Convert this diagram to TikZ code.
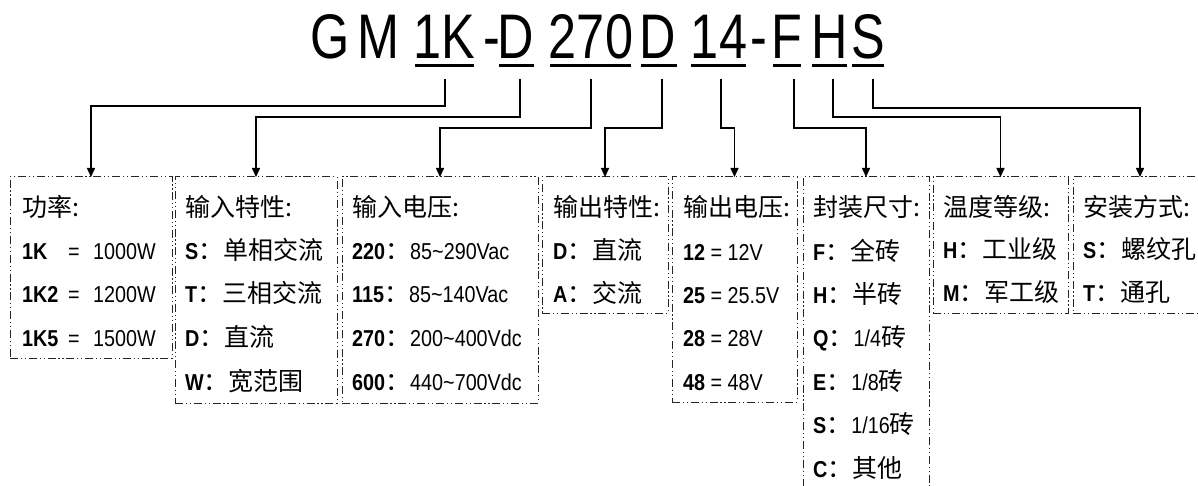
\documentclass[tikz,border=0pt]{standalone}
\usepackage{fontspec}
\setmainfont{Liberation Sans}[FakeStretch=0.86]
\newfontfamily\cjk{Noto Sans CJK SC}
\newfontfamily\titlefont{Liberation Sans}[FakeStretch=0.8]
\usetikzlibrary{arrows.meta}
\newcommand\zh[1]{{\cjk\fontsize{25}{25}\selectfont #1}}
\newcommand\bl[1]{{\bfseries #1}}
\begin{document}
\begin{tikzpicture}[x=1pt,y=-1pt,
  box/.style={draw=black!85, line width=1pt,
    dash pattern=on 8pt off 2.8pt on 1.2pt off 2.8pt on 1.2pt off 2.8pt,
    anchor=north west, inner sep=0pt, outer sep=0pt},
  conn/.style={draw, line width=1.5pt, -{Triangle[width=8pt,length=9pt]}},
  txt/.style={anchor=base west, inner sep=0pt, font=\fontsize{23}{23}\selectfont},
  big/.style={anchor=base, inner sep=0pt, font=\titlefont\fontsize{63}{63}\selectfont},
  uline/.style={line width=3pt}]
\path[use as bounding box, clip] (0,0) rectangle (1198,486);

% title
\node[big] (tG) at (330.5,59) {G};
\node[big] (tM) at (378.5,59) {M};
\node[big] (t1K) at (444.5,59) {1K};
\node[big] (tda) at (491.5,59) {-};
\node[big] (tD1) at (516,59) {D};
\node[big] (t270) at (591,59) {270};
\node[big] (tD2) at (658,59) {D};
\node[big] (t14) at (719,59) {14};
\node[big] (tdb) at (759,59) {-};
\node[big] (tF) at (787,59) {F};
\node[big] (tH) at (829.5,59) {H};
\node[big] (tS) at (868,59) {S};

% underlines
\draw[uline] (415,66) -- (474,66);
\draw[uline] (499,66) -- (534,66);
\draw[uline] (550,66) -- (631,66);
\draw[uline] (641,66) -- (677,66);
\draw[uline] (691,66) -- (746,66);
\draw[uline] (773,66) -- (801,66);
\draw[uline] (812,66) -- (847,66);
\draw[uline] (852,66) -- (884,66);

% connector starts
\coordinate (k1) at (445,79);
\coordinate (k2) at (520,79);
\coordinate (k3) at (591,79);
\coordinate (k4) at (662,79);
\coordinate (k5) at (721,79);
\coordinate (k6) at (794,79);
\coordinate (k7) at (833,79);
\coordinate (k8) at (873,79);

% boxes
\node[box, minimum width=162pt, minimum height=181pt] (b1) at (10,177) {};
\node[box, minimum width=162pt, minimum height=226pt] (b2) at (175,177) {};
\node[box, minimum width=196pt, minimum height=226pt] (b3) at (342,177) {};
\node[box, minimum width=126pt, minimum height=136pt] (b4) at (542,177) {};
\node[box, minimum width=125pt, minimum height=225pt] (b5) at (672,177) {};
\node[box, minimum width=126pt, minimum height=330pt] (b6) at (803,177) {};
\node[box, minimum width=135pt, minimum height=136pt] (b7) at (933,177) {};
\node[box, minimum width=134pt, minimum height=136pt] (b8) at (1073,177) {};

% connectors
\draw[conn] (k1) -- ++(0,27) -| (b1.north);
\draw[conn] (k2) -- ++(0,38) -| (b2.north);
\draw[conn] (k3) -- ++(0,49) -| (b3.north);
\draw[conn] (k4) -- ++(0,49) -| (b4.north);
\draw[conn] (k5) -- ++(0,49) -| (b5.north);
\draw[conn] (k6) -- ++(0,49) -| (b6.north);
\draw[conn] (k7) -- ++(0,38) -| (b7.north);
\draw[conn] (k8) -- ++(0,29) -| (b8.north);

% box 1
\node[txt] (h1) at (22,216.5) {\zh{功率:}};
\node[txt] (p1a) at (22,259.5) {\bl{1K}};
\node[txt] (p1b) at (68,259.5) {=};
\node[txt] (p1c) at (93,259.5) {1000W};
\node[txt] (p2a) at (22,302.5) {\bl{1K2}};
\node[txt] (p2b) at (68,302.5) {=};
\node[txt] (p2c) at (93,302.5) {1200W};
\node[txt] (p3a) at (22,346.5) {\bl{1K5}};
\node[txt] (p3b) at (68,346.5) {=};
\node[txt] (p3c) at (93,346.5) {1500W};

% box 2
\node[txt] (h2) at (185,216.5) {\zh{输入特性:}};
\node[txt] (i1) at (185,259.5) {\bl{S}\zh{：单相交流}};
\node[txt] (i2) at (185,302.5) {\bl{T}\zh{：三相交流}};
\node[txt] (i3) at (185,346.5) {\bl{D}\zh{：直流}};
\node[txt] (i4) at (185,390.5) {\bl{W}\zh{：宽范围}};

% box 3
\node[txt] (h3) at (352,216.5) {\zh{输入电压:}};
\node[txt] (v1) at (352,259.5) {\bl{220}\zh{：}85\char`~290Vac};
\node[txt] (v2) at (352,302.5) {\bl{115}\zh{：}85\char`~140Vac};
\node[txt] (v3) at (352,346.5) {\bl{270}\zh{：}200\char`~400Vdc};
\node[txt] (v4) at (352,390.5) {\bl{600}\zh{：}440\char`~700Vdc};

% box 4
\node[txt] (h4) at (553,216.5) {\zh{输出特性:}};
\node[txt] (o1) at (553,259.5) {\bl{D}\zh{：直流}};
\node[txt] (o2) at (553,302.5) {\bl{A}\zh{：交流}};

% box 5
\node[txt] (h5) at (683,216.5) {\zh{输出电压:}};
\node[txt] (u1) at (683,260.5) {\bl{12} = 12V};
\node[txt] (u2) at (683,303.5) {\bl{25} = 25.5V};
\node[txt] (u3) at (683,346.5) {\bl{28} = 28V};
\node[txt] (u4) at (683,390.5) {\bl{48} = 48V};

% box 6
\node[txt] (h6) at (813,216.5) {\zh{封装尺寸:}};
\node[txt] (s1) at (813,260.5) {\bl{F}\zh{：全砖}};
\node[txt] (s2) at (813,303.5) {\bl{H}\zh{：半砖}};
\node[txt] (s3) at (813,346.5) {\bl{Q}\zh{：}1/4\zh{砖}};
\node[txt] (s4) at (813,390.5) {\bl{E}\zh{：}1/8\zh{砖}};
\node[txt] (s5) at (813,433.5) {\bl{S}\zh{：}1/16\zh{砖}};
\node[txt] (s6) at (813,477.5) {\bl{C}\zh{：其他}};

% box 7
\node[txt] (h7) at (943,216.5) {\zh{温度等级:}};
\node[txt] (g1) at (943,258.5) {\bl{H}\zh{：工业级}};
\node[txt] (g2) at (943,301.5) {\bl{M}\zh{：军工级}};

% box 8
\node[txt] (h8) at (1083,216.5) {\zh{安装方式:}};
\node[txt] (m1) at (1083,258.5) {\bl{S}\zh{：螺纹孔}};
\node[txt] (m2) at (1083,301.5) {\bl{T}\zh{：通孔}};
\end{tikzpicture}
\end{document}
